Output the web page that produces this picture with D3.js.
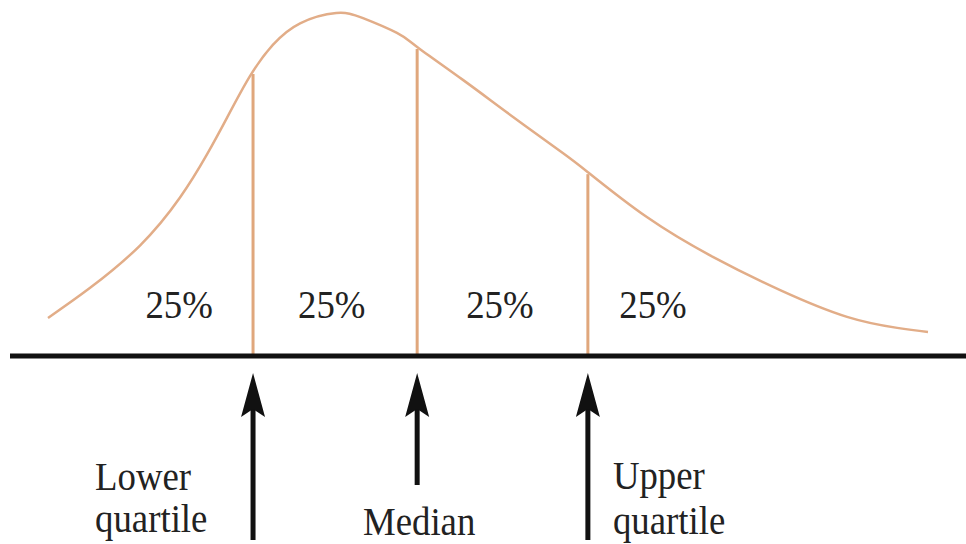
<!DOCTYPE html>
<html>
<head>
<meta charset="utf-8">
<script src="https://cdn.jsdelivr.net/npm/d3@7"></script>
<style>
  html, body { margin: 0; padding: 0; background: #fff; }
  svg { display: block; }
</style>
</head>
<body>
<svg id="chart" width="966" height="544"></svg>
<script>
// ---- data (x in value units, density relative to peak) ----
const curveX = [0, 0.95, 2.09, 3.0, 3.61, 4.07, 4.59, 5.11, 5.73, 6.55, 7.16, 7.93, 8.39, 9.43, 10.57, 11.70, 12.27, 13.61, 15.11, 16.64, 18.16, 19.30, 20.0];
const curveDensity = [0.111, 0.198, 0.322, 0.462, 0.587, 0.695, 0.816, 0.907, 0.970, 1.0, 0.985, 0.942, 0.901, 0.805, 0.697, 0.592, 0.536, 0.405, 0.289, 0.192, 0.114, 0.082, 0.070];
const quartileNames = ["Lower quartile", "Median", "Upper quartile"];
const quartileX = [4.66, 8.39, 12.27];
const shareLabels = ["25%", "25%", "25%", "25%"];
const shareLabelX = [2.98, 6.45, 10.27, 13.75];

// ---- layout ----
const W = 966, H = 544;
const svg = d3.select("#chart");
const x = d3.scaleLinear().domain([0, 20]).range([48, 928]);
const y = d3.scaleLinear().domain([0, 1]).range([356, 13]);
const baseY = y(0);
const serif = "'Liberation Serif', 'Times New Roman', serif";
const textColor = "#222";
const orange = "#e0a77c";

const pts = curveX.map((v, i) => ({ x: v, d: curveDensity[i] }));

// density at a given x (linear interpolation between read points)
function densityAt(v) {
  const i = d3.bisector(p => p.x).right(pts, v);
  const a = pts[Math.max(0, i - 1)], b = pts[Math.min(pts.length - 1, i)];
  if (a === b) return a.d;
  const t = (v - a.x) / (b.x - a.x);
  return a.d + t * (b.d - a.d);
}

// quartile vertical lines
svg.append("g").selectAll("line")
  .data(quartileX)
  .join("line")
  .attr("x1", d => x(d)).attr("x2", d => x(d))
  .attr("y1", d => y(densityAt(d)) + 2)
  .attr("y2", baseY)
  .attr("stroke", orange)
  .attr("stroke-width", 3);

// density curve
const line = d3.line()
  .x(p => x(p.x))
  .y(p => y(p.d))
  .curve(d3.curveNatural);
svg.append("path")
  .datum(pts)
  .attr("d", line)
  .attr("fill", "none")
  .attr("stroke", "#e2ad88")
  .attr("stroke-width", 2.5);

// baseline axis
svg.append("line")
  .attr("x1", 10).attr("x2", W)
  .attr("y1", baseY).attr("y2", baseY)
  .attr("stroke", "#111")
  .attr("stroke-width", 5);

// helper for condensed serif text
function label(g, txt, px, py, anchor) {
  return g.append("text")
    .attr("transform", `translate(${px},${py}) scale(0.92,1)`)
    .attr("text-anchor", anchor)
    .attr("font-family", serif)
    .attr("font-size", 40)
    .attr("fill", textColor)
    .text(txt);
}

// 25% labels
const lg = svg.append("g");
shareLabels.forEach((s, i) => label(lg, s, x(shareLabelX[i]), 318, "middle"));

// arrows
const tipY = 373;
const arrowBottom = [540, 485, 540];
const ag = svg.append("g");
quartileX.forEach((q, i) => {
  const cx = x(q);
  ag.append("line")
    .attr("x1", cx).attr("x2", cx)
    .attr("y1", tipY + 30).attr("y2", arrowBottom[i])
    .attr("stroke", "#111")
    .attr("stroke-width", 5);
  ag.append("path")
    .attr("d", `M${cx},${tipY} L${cx + 12},${tipY + 44} L${cx},${tipY + 36} L${cx - 12},${tipY + 44} Z`)
    .attr("fill", "#111");
});

// quartile names
const ng = svg.append("g");
const q1 = x(quartileX[0]), md = x(quartileX[1]), q3 = x(quartileX[2]);
label(ng, "Lower", q1 - 158, 490, "start");
label(ng, "quartile", q1 - 158, 532, "start");
label(ng, "Median", md + 2, 535, "middle");
label(ng, "Upper", q3 + 25, 489, "start");
label(ng, "quartile", q3 + 25, 534, "start");
</script>
</body>
</html>
